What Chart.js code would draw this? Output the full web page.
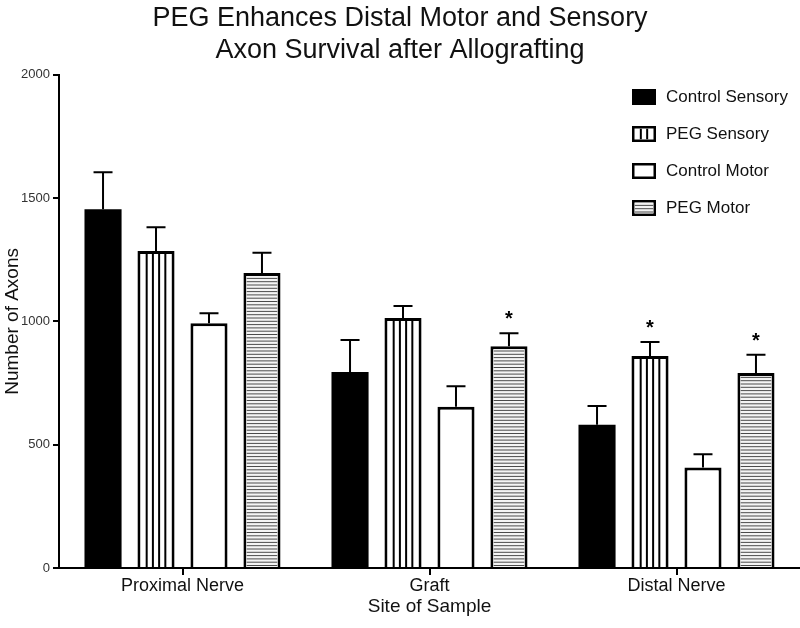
<!DOCTYPE html>
<html>
<head>
<meta charset="utf-8">
<script src="https://cdn.jsdelivr.net/npm/chart.js@4.4.0/dist/chart.umd.min.js"></script>
<style>
  html, body { margin: 0; padding: 0; background: #fff; }
</style>
</head>
<body>
<canvas id="axonChart" width="800" height="628"></canvas>
<script>
const sites = ['Proximal Nerve', 'Graft', 'Distal Nerve'];
const seriesNames = ['Control Sensory', 'PEG Sensory', 'Control Motor', 'PEG Motor'];

const controlSensory = [1455, 795, 581];
const pegSensory = [1285, 1014, 860];
const controlMotor = [993, 654, 408];
const pegMotor = [1196, 899, 791];

// upper error whiskers (SEM)
const controlSensoryErr = [150, 130, 76];
const pegSensoryErr = [97, 48, 56];
const controlMotorErr = [40, 83, 53];
const pegMotorErr = [82, 53, 74];

// asterisks
const controlSensorySig = [false, false, false];
const pegSensorySig = [false, false, true];
const controlMotorSig = [false, false, false];
const pegMotorSig = [false, true, true];

const yTicks = [0, 500, 1000, 1500, 2000];

const FONT = "'Liberation Sans', Arial, Helvetica, sans-serif";
const BORDER = 3;

// fill kinds: solid black, vertical stripes, plain white, horizontal stripes
function fillInside(ctx, kind, left, top, w, h, vCount) {
    ctx.save();
    ctx.beginPath();
    ctx.rect(left, top, w, h);
    ctx.clip();
    if (kind === 'vstripe') {
        ctx.strokeStyle = '#000';
        ctx.lineWidth = 2;
        for (let i = 1; i < vCount; i++) {
            const x = left + w * i / vCount;
            ctx.beginPath();
            ctx.moveTo(x, top);
            ctx.lineTo(x, top + h);
            ctx.stroke();
        }
    } else if (kind === 'hstripe') {
        ctx.fillStyle = '#f4f4f4';
        ctx.fillRect(left, top, w, h);
        ctx.strokeStyle = '#4a4a4a';
        ctx.lineWidth = 1;
        for (let y = top + h - 1.5; y > top; y -= 3.3) {
            ctx.beginPath();
            ctx.moveTo(left, y);
            ctx.lineTo(left + w, y);
            ctx.stroke();
        }
    }
    ctx.restore();
}

const fillKinds = ['solid', 'vstripe', 'plain', 'hstripe'];
const errs = [controlSensoryErr, pegSensoryErr, controlMotorErr, pegMotorErr];
const sigs = [controlSensorySig, pegSensorySig, controlMotorSig, pegMotorSig];

const barDecor = {
    id: 'barDecor',
    afterDatasetsDraw(chart) {
        const ctx = chart.ctx;
        const yScale = chart.scales.y;
        chart.data.datasets.forEach((ds, di) => {
            const meta = chart.getDatasetMeta(di);
            meta.data.forEach((bar, i) => {
                const { x, y, base, width } = bar.getProps(['x', 'y', 'base', 'width'], true);
                fillInside(ctx, fillKinds[di], x - width / 2 + BORDER, y + BORDER,
                    width - 2 * BORDER, base - y - BORDER, 5);

                // error whisker, drawn up only
                const top = yScale.getPixelForValue(ds.data[i] + errs[di][i]);
                ctx.save();
                ctx.strokeStyle = '#000';
                ctx.lineWidth = 2;
                ctx.beginPath();
                ctx.moveTo(x, y);
                ctx.lineTo(x, top);
                ctx.moveTo(x - 9.5, top);
                ctx.lineTo(x + 9.5, top);
                ctx.stroke();
                if (sigs[di][i]) {
                    ctx.fillStyle = '#000';
                    ctx.font = 'bold 20px ' + FONT;
                    ctx.textAlign = 'center';
                    ctx.textBaseline = 'alphabetic';
                    ctx.fillText('*', x, top - 8);
                }
                ctx.restore();
            });
        });
    }
};

const boxLegend = {
    id: 'boxLegend',
    afterDraw(chart) {
        const ctx = chart.ctx;
        const x0 = 632, y0 = 97, step = 37;
        ctx.save();
        seriesNames.forEach((name, i) => {
            const cy = y0 + i * step;
            const ds = chart.data.datasets[i];
            ctx.fillStyle = '#000';
            ctx.fillRect(x0, cy - 8, 24, 16);
            ctx.fillStyle = ds.backgroundColor;
            ctx.fillRect(x0 + 2.5, cy - 5.5, 19, 11);
            fillInside(ctx, fillKinds[i], x0 + 2.5, cy - 5.5, 19, 11, 3);
            ctx.fillStyle = '#111';
            ctx.font = '17px ' + FONT;
            ctx.textAlign = 'left';
            ctx.textBaseline = 'middle';
            ctx.fillText(name, x0 + 34, cy);
        });
        ctx.restore();
    }
};

function bars(label, values, color, border) {
    return {
        label: label,
        data: values,
        backgroundColor: color,
        borderColor: '#000',
        borderWidth: border,
        categoryPercentage: 0.858,
        barPercentage: 0.7
    };
}

const axonChart = new Chart(document.getElementById('axonChart'), {
    type: 'bar',
    data: {
        labels: sites,
        datasets: [
            // solid black bar needs no separate outline
            bars(seriesNames[0], controlSensory, '#000', 0),
            bars(seriesNames[1], pegSensory, '#fff', BORDER),
            bars(seriesNames[2], controlMotor, '#fff', BORDER),
            bars(seriesNames[3], pegMotor, '#f4f4f4', BORDER)
        ]
    },
    options: {
        responsive: false,
        animation: false,
        layout: { padding: 0 },
        plugins: {
            legend: { display: false },
            tooltip: { enabled: false },
            title: {
                display: true,
                text: ['PEG Enhances Distal Motor and Sensory', 'Axon Survival after Allografting'],
                color: '#111',
                font: { family: FONT, size: 27, weight: 'normal' },
                padding: { top: 2, bottom: 8 }
            }
        },
        scales: {
            x: {
                grid: { offset: false, drawOnChartArea: false, color: '#000', lineWidth: 2, tickLength: 7 },
                border: { color: '#000', width: 2 },
                ticks: { color: '#111', font: { family: FONT, size: 18 }, padding: 0 },
                title: {
                    display: true,
                    text: 'Site of Sample',
                    color: '#111',
                    font: { family: FONT, size: 19 },
                    padding: { top: 0, bottom: 10 }
                },
                afterFit(scale) { scale.height = 60; }
            },
            y: {
                min: 0,
                max: 2000,
                afterBuildTicks(scale) { scale.ticks = yTicks.map(v => ({ value: v })); },
                grid: { drawOnChartArea: false, color: '#000', lineWidth: 2, tickLength: 6 },
                border: { color: '#000', width: 2 },
                ticks: {
                    color: '#333',
                    font: { family: FONT, size: 13 },
                    padding: 3,
                    callback: v => String(v)
                },
                title: {
                    display: true,
                    text: 'Number of Axons',
                    color: '#111',
                    font: { family: FONT, size: 19 },
                    padding: { top: 1, bottom: 0 }
                },
                afterFit(scale) { scale.width = 59; }
            }
        }
    },
    plugins: [barDecor, boxLegend]
});
</script>
</body>
</html>
